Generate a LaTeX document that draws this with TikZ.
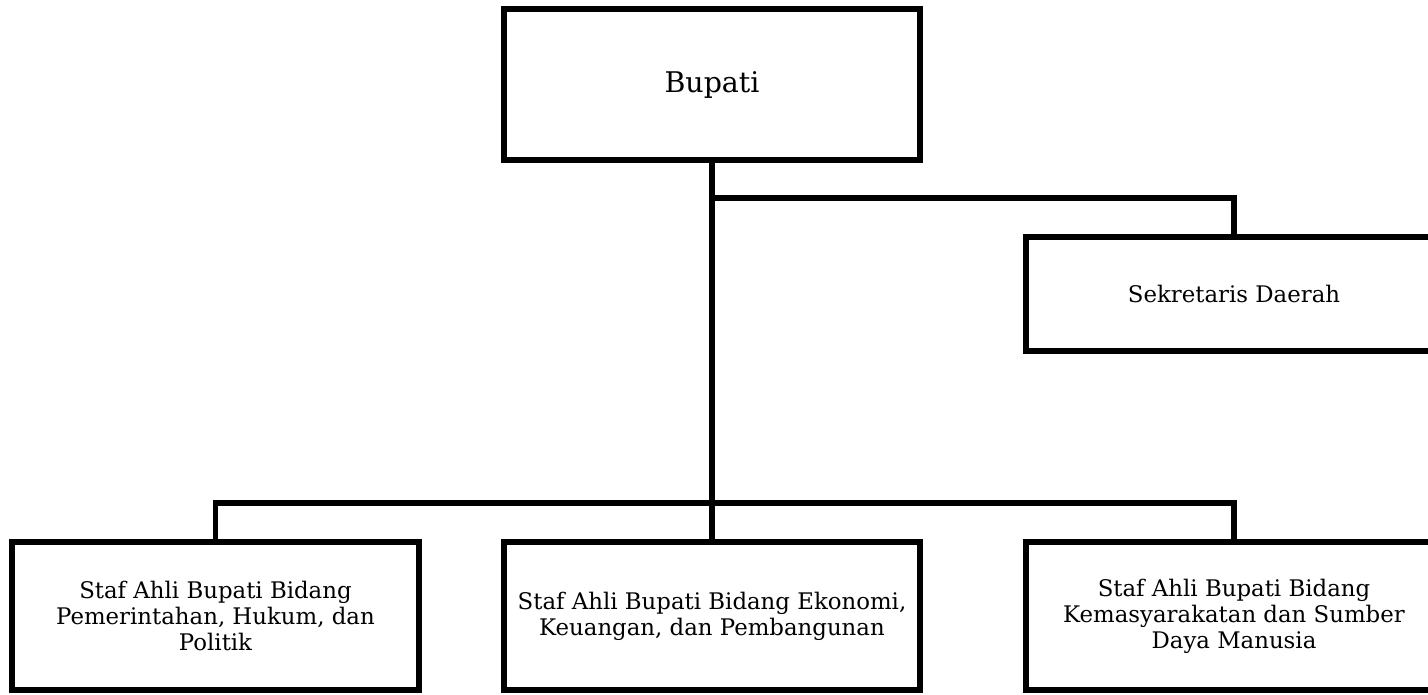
\documentclass[tikz,border=0pt]{standalone}
\usepackage{fontspec}
\setmainfont{DejaVu Serif}
\usetikzlibrary{positioning}

\begin{document}
\begin{tikzpicture}[line width=3.1pt]
  \tikzset{
    kotak/.style={
      rectangle,
      draw=black,
      outer sep=0pt,
      minimum width=8.32cm,
      minimum height=2.96cm,
      align=center,
      font=\fontsize{13}{14.8}\selectfont},
    kotakatas/.style={
      kotak,
      minimum height=3.02cm,
      font=\fontsize{16.2}{19}\selectfont}}

  \useasboundingbox (-14.24,-12.19) rectangle (14.32,1.69);

  \node[kotakatas] (bupati) at (0,0) {Bupati};
  \node[kotak] (sa2) [below=7.64cm of bupati] {Staf Ahli Bupati Bidang Ekonomi,\\Keuangan, dan Pembangunan};
  \node[kotak, minimum width=8.14cm] (sa1) [left=1.7cm of sa2] {Staf Ahli Bupati Bidang\\Pemerintahan, Hukum, dan\\Politik};
  \node[kotak] (sa3) [right=2.12cm of sa2] {Staf Ahli Bupati Bidang\\Kemasyarakatan dan Sumber\\Daya Manusia};
  \node[kotak, minimum height=2.28cm] (sekda) [above=3.82cm of sa3] {Sekretaris Daerah};

  \coordinate[below=0.76cm of bupati] (cab);
  \coordinate[below=6.86cm of bupati] (bus);

  \draw (bupati) -- (sa2);
  \draw (cab) -| (sekda.north);
  \draw (bus) -| (sa1.north);
  \draw (bus) -| (sa3.north);

\end{tikzpicture}
\end{document}
